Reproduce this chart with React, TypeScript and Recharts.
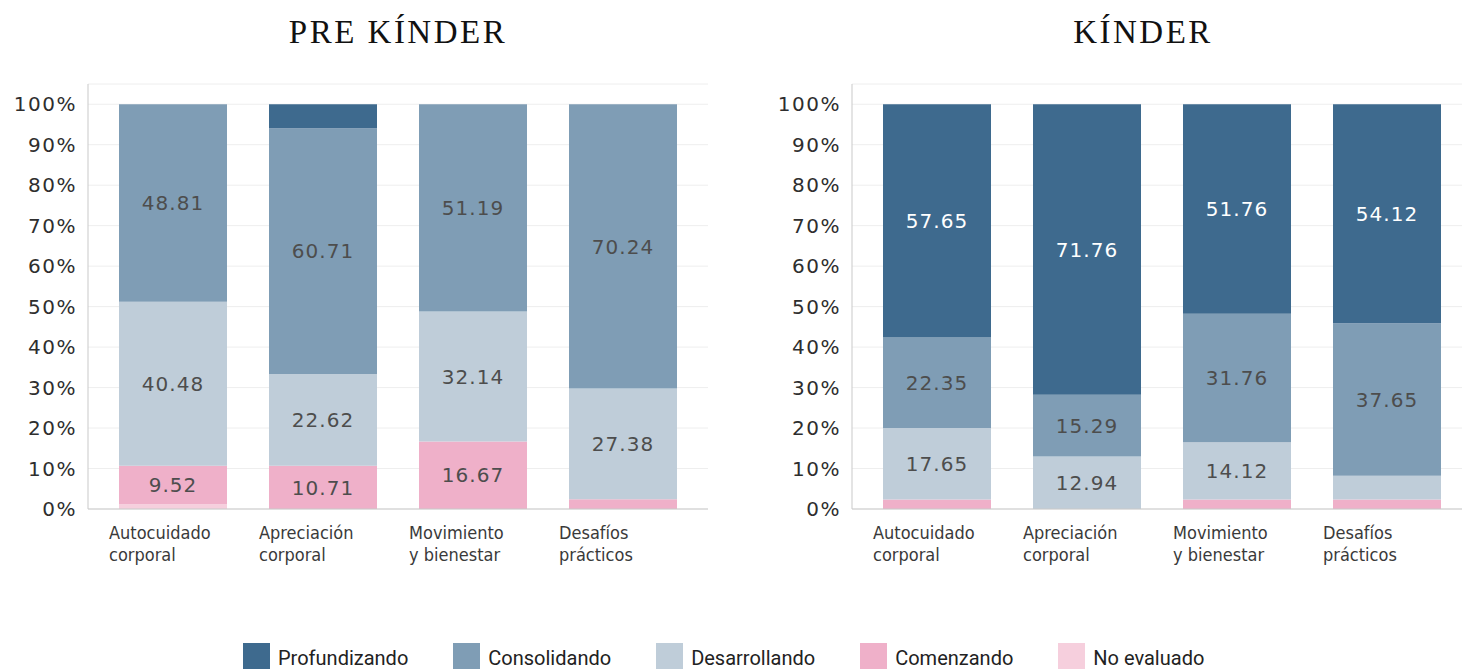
import { BarChart, Bar, XAxis, YAxis, CartesianGrid, LabelList } from 'recharts'

const categories = ['Autocuidado\ncorporal', 'Apreciación\ncorporal', 'Movimiento\ny bienestar', 'Desafíos\nprácticos']
const levels = ['Profundizando', 'Consolidando', 'Desarrollando', 'Comenzando', 'No evaluado']
const levelColors = ['#3e6a8e', '#7f9db5', '#bfcdd9', '#efb0c9', '#f6cfdd']
const yTicks = [0, 10, 20, 30, 40, 50, 60, 70, 80, 90, 100]

// PRE KÍNDER (%)
const preProfundizando = [0, 5.95, 0, 0]
const preConsolidando = [48.81, 60.71, 51.19, 70.24]
const preDesarrollando = [40.48, 22.62, 32.14, 27.38]
const preComenzando = [9.52, 10.71, 16.67, 2.38]
const preNoEvaluado = [1.19, 0, 0, 0]

// KÍNDER (%)
const kProfundizando = [57.65, 71.76, 51.76, 54.12]
const kConsolidando = [22.35, 15.29, 31.76, 37.65]
const kDesarrollando = [17.65, 12.94, 14.12, 5.88]
const kComenzando = [2.35, 0, 2.35, 2.35]
const kNoEvaluado = [0, 0, 0, 0]

const buildRows = (series: number[][]) =>
  categories.map((cat, i) => {
    const row: any = { cat }
    levels.forEach((lv, j) => (row[lv] = series[j][i]))
    return row
  })

const preRows = buildRows([preProfundizando, preConsolidando, preDesarrollando, preComenzando, preNoEvaluado])
const kRows = buildRows([kProfundizando, kConsolidando, kDesarrollando, kComenzando, kNoEvaluado])

const FRAME = '#c9c9c9'
const FONT = 'DejaVu Sans'

const makeLabel = (light: boolean) => (props: any) => {
  const { x, y, width, height, value } = props
  if (value == null || value < 7) return null
  return (
    <text
      x={x + width / 2}
      y={y + height / 2}
      dy="0.36em"
      textAnchor="middle"
      fill={light ? '#ffffff' : '#4d4d4d'}
      fontSize={20}
      letterSpacing={1}
      fontFamily={FONT}
    >
      {Number(value).toFixed(2)}
    </text>
  )
}

const CatTick = ({ x, y, payload }: any) => {
  const lines = String(payload.value).split('\n')
  return (
    <g>
      {lines.map((l, i) => (
        <text
          key={i}
          x={x - 64}
          y={y + 22 + i * 22}
          textAnchor="start"
          fill="#3a3a3a"
          fontSize={18}
          fontFamily="DejaVu Sans Condensed, DejaVu Sans"
        >
          {l}
        </text>
      ))}
    </g>
  )
}

function LevelChart({ rows }: { rows: any[] }) {
  return (
    <BarChart width={720} height={600} data={rows} margin={{ top: 84, right: 12, bottom: 31, left: 0 }}>
      <CartesianGrid vertical={false} stroke="#eeeeee" />
      <XAxis
        dataKey="cat"
        height={60}
        padding={{ left: 10, right: 10 }}
        tickLine={false}
        axisLine={{ stroke: FRAME }}
        tick={<CatTick />}
        interval={0}
      />
      <XAxis xAxisId="top" dataKey="cat" orientation="top" height={0} tick={false} tickLine={false} axisLine={{ stroke: FRAME }} />
      <YAxis
        width={88}
        domain={[0, 105]}
        ticks={yTicks}
        tickFormatter={(v) => `${v}%`}
        tickLine={false}
        tickMargin={5}
        axisLine={{ stroke: FRAME }}
        tick={{ fill: '#2e2e2e', fontSize: 20, fontFamily: FONT, letterSpacing: 1.5 }}
      />
      <YAxis yAxisId="right" orientation="right" width={0} domain={[0, 105]} tick={false} tickLine={false} axisLine={{ stroke: FRAME }} />
      {[...levels].reverse().map((lv) => {
        const idx = levels.indexOf(lv)
        return (
          <Bar key={lv} dataKey={lv} stackId="s" fill={levelColors[idx]} barSize={108} isAnimationActive={false}>
            <LabelList dataKey={lv} content={makeLabel(idx === 0)} />
          </Bar>
        )
      })}
    </BarChart>
  )
}

const titleStyle: React.CSSProperties = {
  position: 'absolute',
  top: 14,
  width: 400,
  textAlign: 'center',
  fontFamily: 'Liberation Serif, Times New Roman, serif',
  fontSize: 33,
  letterSpacing: 2.5,
  lineHeight: '36px',
  color: '#111',
}

export default function App() {
  return (
    <div style={{ position: 'absolute', left: 0, top: 0, width: 1462, height: 669, overflow: 'hidden', background: '#fff' }}>
      <div style={{ ...titleStyle, left: 198 }}>PRE KÍNDER</div>
      <div style={{ ...titleStyle, left: 943 }}>KÍNDER</div>
      <div style={{ position: 'absolute', left: 0, top: 0 }}>
        <LevelChart rows={preRows} />
      </div>
      <div style={{ position: 'absolute', left: 764, top: 0 }}>
        <LevelChart rows={kRows} />
      </div>
      <div
        style={{
          position: 'absolute',
          left: 243,
          top: 643,
          display: 'flex',
          gap: 45,
          fontFamily: 'Roboto, sans-serif',
          fontSize: 20,
          color: '#222',
        }}
      >
        {levels.map((lv, i) => (
          <div key={lv} style={{ display: 'flex', alignItems: 'flex-start' }}>
            <span style={{ width: 27, height: 26, background: levelColors[i], marginRight: 8, display: 'inline-block' }} />
            <span style={{ lineHeight: '20px', paddingTop: 5 }}>{lv}</span>
          </div>
        ))}
      </div>
    </div>
  )
}
